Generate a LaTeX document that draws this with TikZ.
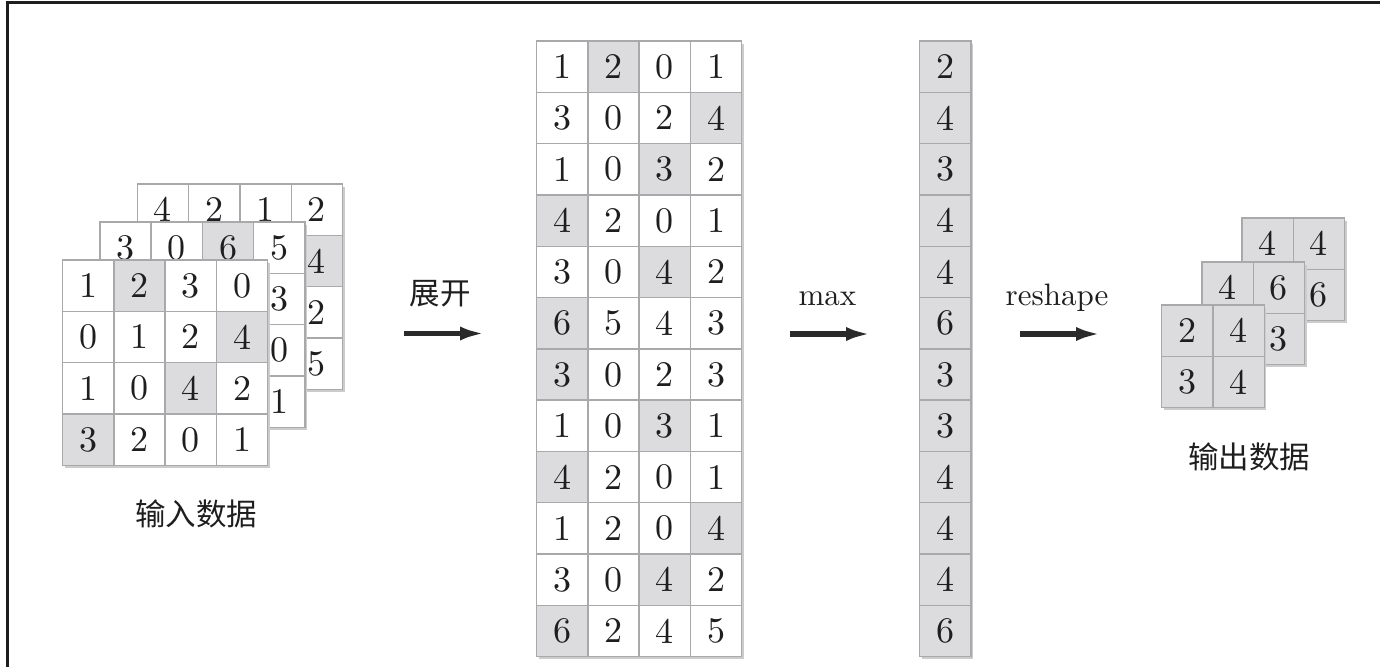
\documentclass[tikz,border=0pt]{standalone}
\usepackage{fontspec}
\newfontfamily\cjk{Noto Sans CJK SC}
\newfontfamily\lmten{lmroman10-regular.otf}
\usetikzlibrary{arrows.meta}
\definecolor{shadec}{HTML}{DCDCDE}
\definecolor{gridc}{HTML}{A9A9AB}
\definecolor{inkc}{HTML}{1E1E1E}
\definecolor{arrowc}{HTML}{2A2A2A}
\newcommand\cellsz{51.3}
% #1 prefix, #2 x, #3 y, #4 ncols, #5 nrows, #6 list v/s
\newcommand\mkgrid[6]{%
  \fill[black!20] ({#2+2},{#3+2.5}) rectangle ({#2+#4*\cellsz+2},{#3+#5*\cellsz+2.5});
  \foreach \v/\sh [count=\i from 0] in {#6} {%
    \pgfmathtruncatemacro\rr{div(\i,#4)}%
    \pgfmathtruncatemacro\cc{mod(\i,#4)}%
    \ifnum\sh=1 \def\fc{shadec}\else\def\fc{white}\fi
    \node[cellbox, fill=\fc] (#1-\rr-\cc) at ({#2+(\cc+0.5)*\cellsz},{#3+(\rr+0.5)*\cellsz}) {\v};
  }%
}
\begin{document}
\begin{tikzpicture}[x=1pt,y=-1pt,
  cellbox/.style={draw=gridc, line width=1.4pt, minimum size=\cellsz pt, inner sep=0pt,
    text=inkc, font=\fontsize{36}{36}\selectfont\lmten},
  lbl/.style={text=inkc, inner sep=0pt, font=\fontsize{31}{31}\selectfont\lmten},
  cjklbl/.style={text=inkc, inner sep=0pt, font=\fontsize{30.5}{30.5}\selectfont\cjk},
  bigarrow/.style={draw=arrowc, line width=5.5pt, -{Latex[length=25pt, width=14pt]}},
  framel/.style={draw=inkc, line width=3pt}]
\useasboundingbox (0,0) rectangle (1380,667);
\fill[white] (0,0) rectangle (1380,667);
% frame
\coordinate (f1) at (7,667);
\coordinate (f2) at (7,2);
\coordinate (f3) at (1380,2);
\draw[framel] (f1) -- (f2) -- (f3);

% input stack
\mkgrid{inc}{137.3}{184}{4}{4}{4/0,2/0,1/0,2/0, {}/0,{}/0,{}/0,4/1, {}/0,{}/0,{}/0,2/0, {}/0,{}/0,{}/0,5/0}
\mkgrid{inb}{99.8}{222}{4}{4}{3/0,0/0,6/1,5/0, {}/0,{}/0,{}/0,3/0, {}/0,{}/0,{}/0,0/0, {}/0,{}/0,{}/0,1/0}
\mkgrid{ina}{62.5}{260}{4}{4}{1/0,2/1,3/0,0/0, 0/0,1/0,2/0,4/1, 1/0,0/0,4/1,2/0, 3/1,2/0,0/0,1/0}
\node[cjklbl] (lin) at (196,514) {输入数据};

% expanded matrix
\mkgrid{big}{536.5}{41}{4}{12}{1/0,2/1,0/0,1/0, 3/0,0/0,2/0,4/1, 1/0,0/0,3/1,2/0, 4/1,2/0,0/0,1/0, 3/0,0/0,4/1,2/0, 6/1,5/0,4/0,3/0, 3/1,0/0,2/0,3/0, 1/0,0/0,3/1,1/0, 4/1,2/0,0/0,1/0, 1/0,2/0,0/0,4/1, 3/0,0/0,4/1,2/0, 6/1,2/0,4/0,5/0}

% max column
\mkgrid{mx}{919.5}{41}{1}{12}{2/1,4/1,3/1,4/1,4/1,6/1,3/1,3/1,4/1,4/1,4/1,6/1}

% output stack
\mkgrid{outc}{1242}{218}{2}{2}{4/1,4/1,{}/1,6/1}
\mkgrid{outb}{1202}{262}{2}{2}{4/1,6/1,{}/1,3/1}
\mkgrid{outa}{1161.7}{305}{2}{2}{2/1,4/1,3/1,4/1}
\node[cjklbl] (lout) at (1249,457) {输出数据};

% arrows and labels
\coordinate (a1s) at (404,333.5);
\coordinate (a1e) at (485,333.5);
\draw[bigarrow] (a1s) -- (a1e);
\node[cjklbl] (lunf) at (440,294) {展开};

\coordinate (a2s) at (790,334);
\coordinate (a2e) at (871,334);
\draw[bigarrow] (a2s) -- (a2e);
\node[lbl, anchor=base] (lmax) at (827.5,305.5) {max};

\coordinate (a3s) at (1020,334);
\coordinate (a3e) at (1101,334);
\draw[bigarrow] (a3s) -- (a3e);
\node[lbl, anchor=base] (lres) at (1057,305.5) {reshape};
\end{tikzpicture}
\end{document}
